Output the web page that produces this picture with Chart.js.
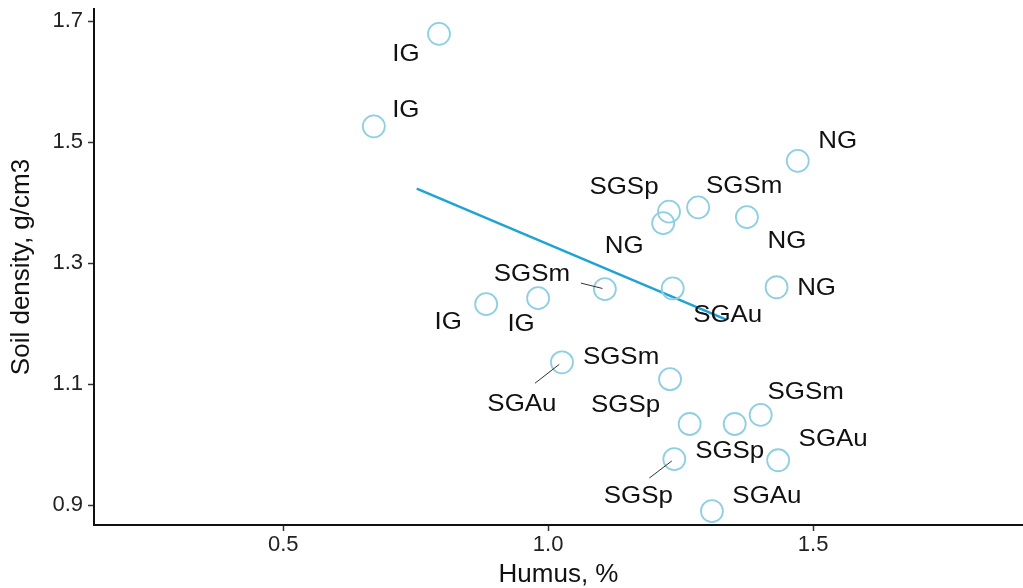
<!DOCTYPE html>
<html>
<head>
<meta charset="utf-8">
<script src="https://cdn.jsdelivr.net/npm/chart.js@4/dist/chart.umd.min.js"></script>
<style>
  html, body { margin: 0; padding: 0; background: #fff; overflow: hidden; }
  canvas { display: block; }
</style>
</head>
<body>
<canvas id="chart-soil" width="1023" height="588" style="width:1023px;height:588px"></canvas>
<script>
var humus = [0.794, 0.671, 1.471, 1.228, 1.217, 1.283, 1.375, 1.107, 1.235, 1.431,
             0.981, 0.883, 1.026, 1.230, 1.267, 1.352, 1.401, 1.238, 1.434, 1.309];
var density = [1.679, 1.526, 1.469, 1.385, 1.366, 1.392, 1.376, 1.257, 1.258, 1.260,
               1.242, 1.232, 1.136, 1.108, 1.034, 1.034, 1.049, 0.976, 0.974, 0.890];
var groups = ['IG', 'IG', 'NG', 'SGSp', 'NG', 'SGSm', 'NG', 'SGSm', 'SGAu', 'NG',
              'IG', 'IG', 'SGAu', 'SGSm', 'SGSp', 'SGSp', 'SGSm', 'SGSp', 'SGAu', 'SGAu'];
var fitX = [0.752, 1.335];
var fitY = [1.423, 1.207];
var xTicks = [0.5, 1.0, 1.5];
var yTicks = [0.9, 1.1, 1.3, 1.5, 1.7];

// label placement (pixels from the point), leader start where a segment is drawn
var labelOffsets = [[-33, 19], [32, -18], [40, -21], [-45, -26], [-39, 22], [46, -23], [40, 23],
                    [-73, -16], [55, 25], [40, -1], [-17, 25], [-38, 16], [-40, 40], [-49, -24],
                    [-64, -20], [-5, 26], [45, -24], [-36, 36], [55, -23], [55, -16]];
var leaders = { 7: [-24, -6], 12: [-27, 21], 17: [-25, 19] };

var pointLabels = {
    id: 'pointLabels',
    afterDatasetsDraw: function(chart) {
        var ctx = chart.ctx;
        var meta = chart.getDatasetMeta(0);
        ctx.save();
        meta.data.forEach(function(pt, i) {
            var px = pt.x, py = pt.y;
            if (leaders[i]) {
                var s = leaders[i];
                ctx.beginPath();
                ctx.strokeStyle = '#333';
                ctx.lineWidth = 1;
                ctx.moveTo(px + s[0], py + s[1]);
                ctx.lineTo(px + s[0] * 0.1, py + s[1] * 0.1);
                ctx.stroke();
            }
            var off = labelOffsets[i];
            ctx.save();
            ctx.translate(px + off[0], py + off[1] + 8.3);
            ctx.scale(1.08, 1);
            ctx.font = '24px "Liberation Sans", Arial, sans-serif';
            ctx.fillStyle = '#111';
            ctx.textAlign = 'center';
            ctx.textBaseline = 'alphabetic';
            ctx.fillText(groups[i], 0, 0);
            ctx.restore();
        });
        ctx.restore();
    }
};

var pts = humus.map(function(h, i) { return { x: h, y: density[i] }; });
var fitPts = fitX.map(function(v, i) { return { x: v, y: fitY[i] }; });

var configSoil = {
    type: 'scatter',
    data: {
        datasets: [{
            label: 'samples',
            data: pts,
            pointRadius: 11,
            pointHoverRadius: 11,
            pointStyle: 'circle',
            backgroundColor: 'rgba(0,0,0,0)',
            borderColor: '#8ecfe2',
            borderWidth: 1.8
        }, {
            label: 'fit',
            data: fitPts,
            showLine: true,
            pointRadius: 0,
            borderColor: '#1ea3d3',
            borderWidth: 2.5
        }]
    },
    options: {
        responsive: false,
        animation: false,
        layout: { autoPadding: false, padding: { top: 9, right: 0, bottom: 0, left: 0 } },
        plugins: {
            legend: { display: false },
            tooltip: { enabled: false }
        },
        scales: {
            x: {
                type: 'linear',
                min: 0.143,
                max: 1.896,
                afterBuildTicks: function(scale) {
                    scale.ticks = xTicks.map(function(v) { return { value: v }; });
                },
                afterFit: function(scale) {
                    scale.height = 63;
                    scale.paddingLeft = 0;
                    scale.paddingRight = 0;
                },
                ticks: {
                    color: '#222',
                    padding: 1,
                    font: { family: '"Liberation Sans", Arial, sans-serif', size: 22 },
                    callback: function(v) { return Number(v).toFixed(1); }
                },
                grid: { drawOnChartArea: false, drawTicks: true, tickLength: 6, tickColor: '#333', tickWidth: 1.5 },
                border: { display: true, color: '#111', width: 2 },
                title: {
                    display: true,
                    text: 'Humus, %',
                    color: '#111',
                    padding: { top: 0, bottom: 0 },
                    font: { family: '"Liberation Sans", Arial, sans-serif', size: 26, lineHeight: 1 }
                }
            },
            y: {
                type: 'linear',
                min: 0.867,
                max: 1.72,
                afterBuildTicks: function(scale) {
                    scale.ticks = yTicks.map(function(v) { return { value: v }; });
                },
                afterFit: function(scale) {
                    scale.width = 94;
                    scale.paddingTop = 0;
                    scale.paddingBottom = 0;
                },
                ticks: {
                    color: '#222',
                    padding: 5,
                    font: { family: '"Liberation Sans", Arial, sans-serif', size: 22 },
                    callback: function(v) { return Number(v).toFixed(1); }
                },
                grid: { drawOnChartArea: false, drawTicks: true, tickLength: 6, tickColor: '#333', tickWidth: 1.5 },
                border: { display: true, color: '#111', width: 2 },
                title: {
                    display: true,
                    text: 'Soil density, g/cm3',
                    color: '#111',
                    padding: { top: 9, bottom: 0 },
                    font: { family: '"Liberation Sans", Arial, sans-serif', size: 26, lineHeight: 1 }
                }
            }
        }
    },
    plugins: [pointLabels]
};

window.onload = function() {
    var ctxSoil = document.getElementById('chart-soil').getContext('2d');
    window.mySoil = new Chart(ctxSoil, configSoil);
};
</script>
</body>
</html>
